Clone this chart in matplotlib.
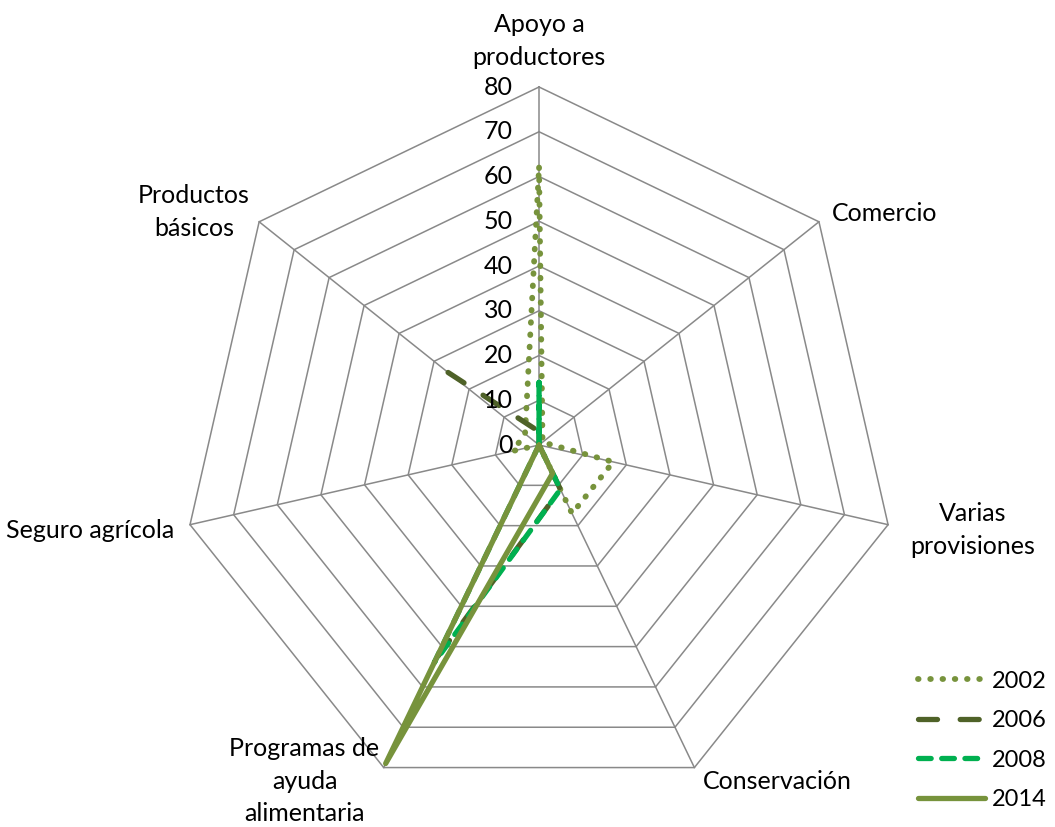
import numpy as np
import matplotlib
matplotlib.use("Agg")
import matplotlib.pyplot as plt

plt.rcParams['font.family'] = ['Lato', 'DejaVu Sans']

# categorías (en el orden del gráfico, empezando arriba y en sentido horario)
categories = ['Apoyo a\nproductores', 'Comercio', 'Varias\nprovisiones', 'Conservación',
              'Programas de\nayuda\nalimentaria', 'Seguro agrícola', 'Productos\nbásicos']

# valores por serie (NaN = celda vacía -> hueco en la línea)
v2002 = [62, 1, 17, 17, 0, 6, 4]
v2006 = [3, 0, 0, 11, 53, np.nan, 26]
v2008 = [14, 0, 0, 11, 54, 0, 0]
v2014 = [0, 0, 0, 7, 79, 0, 0]

years = ['2002', '2006', '2008', '2014']
ticks = [0, 10, 20, 30, 40, 50, 60, 70, 80]

n = len(categories)
angles = np.arange(n) * 2 * np.pi / n
ang_c = np.append(angles, angles[0])

fig = plt.figure(figsize=(10.55, 8.27), dpi=100)
ax = fig.add_axes([0.1716, 0.029, 0.6787, 0.8658], projection='polar')
ax.set_theta_zero_location('N')
ax.set_theta_direction(-1)
ax.set_ylim(0, 80)
ax.grid(False)
ax.set_xticks([])
ax.set_yticks([])
ax.spines['polar'].set_visible(False)

grid_col = '#898989'
for r in ticks[1:]:
    ax.plot(ang_c, [r] * (n + 1), color=grid_col, lw=1.1, zorder=1, clip_on=False)
for a in angles:
    ax.plot([a, a], [0, 80], color=grid_col, lw=1.1, zorder=1, clip_on=False)

fs = 18
for t in ticks:
    ax.annotate(str(t), xy=(0, t), xytext=(-19, 0), textcoords='offset points',
                ha='right', va='center', fontsize=fs, zorder=5)

# etiquetas de categorías
lab_pos = [((0, 13), 'center', 'bottom'),
           ((9, 6), 'left', 'center'),
           ((61, -4), 'center', 'center'),
           ((6, -10), 'left', 'center'),
           ((-57, -10), 'center', 'center'),
           ((-11, -4), 'right', 'center'),
           ((-47, 7), 'center', 'center')]
for a, lab, (off, ha, va) in zip(angles, categories, lab_pos):
    ax.annotate(lab, xy=(a, 80), xytext=off, textcoords='offset points',
                ha=ha, va=va, multialignment='center', fontsize=fs,
                linespacing=1.5, annotation_clip=False)

series = [v2002, v2006, v2008, v2014]
styles = [dict(color='#77933C', lw=4.2, dashes=(0.1, 2.0), dash_capstyle='round'),
          dict(color='#4F6228', lw=3.8, dashes=(3.6, 4.3), dash_capstyle='round'),
          dict(color='#00B050', lw=3.8, dashes=(2.4, 2.0), dash_capstyle='round'),
          dict(color='#77933C', lw=3.8, solid_capstyle='round')]
for vals, yr, st in zip(series, years, styles):
    vv = np.append(vals, vals[0])
    ax.plot(ang_c, vv, label=yr, zorder=3, clip_on=False,
            solid_joinstyle='round', **st)

fig.legend(loc='upper left', bbox_to_anchor=(0.870, 0.189), frameon=False,
           fontsize=17, handlelength=2.85, handletextpad=0.3, labelspacing=0.78,
           borderpad=0, borderaxespad=0)

fig.savefig('out.png', dpi=100)
